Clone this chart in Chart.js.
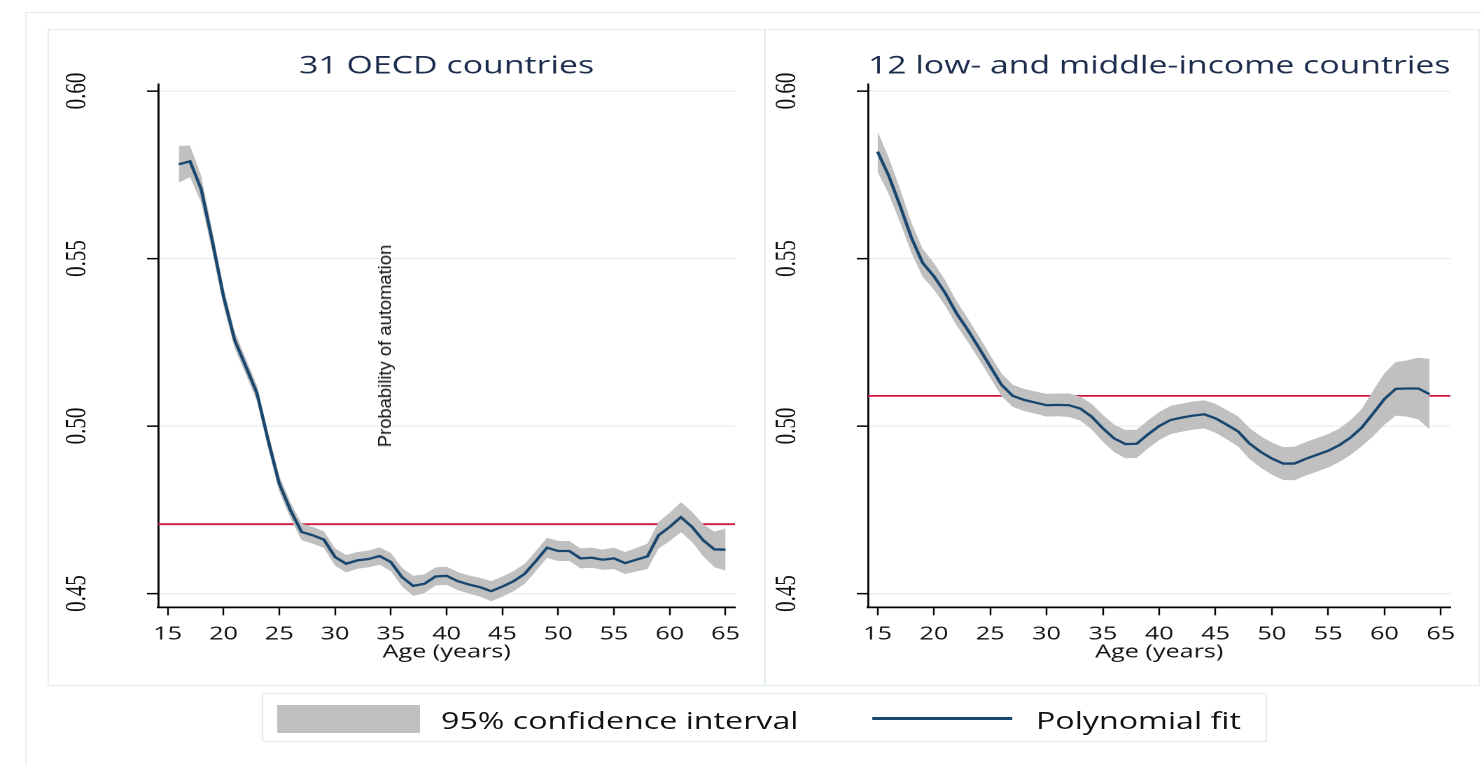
<!DOCTYPE html>
<html>
<head>
<meta charset="utf-8">
<script src="https://cdn.jsdelivr.net/npm/chart.js@4.4.1/dist/chart.umd.min.js"></script>
<style>
html, body { margin: 0; padding: 0; background: #fff; width: 1481px; height: 764px; overflow: hidden; }
/* the source picture is stretched sideways, so the layout is drawn narrow and scaled */
#page { position: absolute; left: 0; top: 0; width: 1058px; height: 764px; transform: scaleX(1.4); transform-origin: 0 0; }
.box { position: absolute; border: 1px solid #e3edf0; box-sizing: border-box; }
canvas { position: absolute; }
#legend span { position: absolute; font-family: "Open Sans", sans-serif; font-size: 23px; line-height: 23px; color: #111; white-space: nowrap; }
#ytitle { position: absolute; left: 385px; top: 346px; transform: translate(-50%, -50%) rotate(-90deg);
          font-family: "Liberation Sans", Arial, sans-serif; font-size: 18.4px; color: #111; white-space: nowrap; }
</style>
</head>
<body>
<div id="page">
  <div class="box" style="left:18px; top:12px; width:1060px; height:800px;"></div>
  <div class="box" style="left:34px; top:29px; width:513px; height:657px;"></div>
  <div class="box" style="left:546px; top:29px; width:511px; height:657px;"></div>
  <canvas id="chartOecd" width="512" height="656" style="left:34px; top:29px;"></canvas>
  <canvas id="chartLmic" width="510" height="656" style="left:546px; top:29px;"></canvas>
  <div id="legend" class="box" style="left:187px; top:693px; width:718px; height:49px;">
    <div style="position:absolute; left:10px; top:11px; width:102px; height:28px; background:#c0c0c0;"></div>
    <span style="left:127px; top:15px;">95% confidence interval</span>
    <div style="position:absolute; left:435px; top:23px; width:100px; height:3px; background:#1a476f;"></div>
    <span style="left:552px; top:15px;">Polynomial fit</span>
  </div>
</div>
<div id="ytitle">Probability of automation</div>

<script>
// Axes
var xTicks = [15, 20, 25, 30, 35, 40, 45, 50, 55, 60, 65];
var yTicks = [0.45, 0.50, 0.55, 0.60];
var xMin = 14.15, xMax = 65.85;
var yMin = 0.4459, yMax = 0.6020;

// 31 OECD countries
var oecdTitle = "31 OECD countries";
var oecdAges = [16, 17, 18, 19, 20, 21, 22, 23, 24, 25, 26, 27, 28, 29, 30, 31, 32, 33, 34, 35,
                36, 37, 38, 39, 40, 41, 42, 43, 44, 45, 46, 47, 48, 49, 50, 51, 52, 53, 54, 55,
                56, 57, 58, 59, 60, 61, 62, 63, 64, 65];
var oecdFit = [0.5781, 0.5790, 0.5707, 0.5552, 0.5387, 0.5257, 0.5178, 0.5098, 0.4958, 0.4828,
               0.4749, 0.4684, 0.4674, 0.4661, 0.4609, 0.4589, 0.4599, 0.4603, 0.4612, 0.4594,
               0.4549, 0.4523, 0.4529, 0.4551, 0.4553, 0.4537, 0.4527, 0.4519, 0.4507, 0.4521,
               0.4537, 0.4559, 0.4597, 0.4637, 0.4627, 0.4627, 0.4605, 0.4607, 0.4601, 0.4605,
               0.4591, 0.4601, 0.4611, 0.4674, 0.4699, 0.4728, 0.4699, 0.4659, 0.4632, 0.4631];
var oecdLow = [0.5726, 0.5743, 0.5667, 0.5520, 0.5359, 0.5232, 0.5154, 0.5074, 0.4934, 0.4804,
               0.4725, 0.4659, 0.4649, 0.4636, 0.4583, 0.4563, 0.4574, 0.4578, 0.4586, 0.4567,
               0.4521, 0.4493, 0.4501, 0.4524, 0.4526, 0.4510, 0.4500, 0.4491, 0.4477, 0.4491,
               0.4507, 0.4529, 0.4567, 0.4607, 0.4597, 0.4597, 0.4575, 0.4577, 0.4571, 0.4573,
               0.4558, 0.4566, 0.4573, 0.4634, 0.4657, 0.4683, 0.4654, 0.4611, 0.4579, 0.4568];
var oecdHigh = [0.5836, 0.5837, 0.5747, 0.5584, 0.5415, 0.5282, 0.5202, 0.5122, 0.4982, 0.4852,
                0.4773, 0.4709, 0.4699, 0.4686, 0.4635, 0.4615, 0.4624, 0.4628, 0.4638, 0.4621,
                0.4577, 0.4553, 0.4557, 0.4578, 0.4580, 0.4564, 0.4554, 0.4547, 0.4537, 0.4551,
                0.4567, 0.4589, 0.4627, 0.4667, 0.4657, 0.4657, 0.4635, 0.4637, 0.4631, 0.4637,
                0.4624, 0.4636, 0.4649, 0.4714, 0.4741, 0.4773, 0.4744, 0.4707, 0.4685, 0.4694];
var oecdMean = 0.4707;

// 12 low- and middle-income countries
var lmicTitle = "12 low- and middle-income countries";
var lmicAges = [15, 16, 17, 18, 19, 20, 21, 22, 23, 24, 25, 26, 27, 28, 29, 30, 31, 32, 33, 34,
                35, 36, 37, 38, 39, 40, 41, 42, 43, 44, 45, 46, 47, 48, 49, 50, 51, 52, 53, 54,
                55, 56, 57, 58, 59, 60, 61, 62, 63, 64];
var lmicFit = [0.5819, 0.5746, 0.5657, 0.5562, 0.5487, 0.5447, 0.5397, 0.5337, 0.5287, 0.5233,
               0.5178, 0.5123, 0.5090, 0.5078, 0.5070, 0.5062, 0.5063, 0.5062, 0.5052, 0.5028,
               0.4993, 0.4963, 0.4946, 0.4947, 0.4975, 0.5000, 0.5018, 0.5025, 0.5031, 0.5035,
               0.5023, 0.5004, 0.4984, 0.4948, 0.4923, 0.4903, 0.4888, 0.4888, 0.4902, 0.4914,
               0.4926, 0.4943, 0.4966, 0.4996, 0.5038, 0.5081, 0.5111, 0.5112, 0.5112, 0.5095];
var lmicLow = [0.5759, 0.5691, 0.5607, 0.5517, 0.5445, 0.5407, 0.5359, 0.5301, 0.5252, 0.5199,
               0.5144, 0.5089, 0.5057, 0.5045, 0.5037, 0.5028, 0.5029, 0.5027, 0.5016, 0.4990,
               0.4953, 0.4922, 0.4904, 0.4905, 0.4933, 0.4958, 0.4976, 0.4983, 0.4989, 0.4993,
               0.4980, 0.4960, 0.4939, 0.4902, 0.4876, 0.4855, 0.4839, 0.4838, 0.4852, 0.4864,
               0.4876, 0.4893, 0.4914, 0.4940, 0.4970, 0.5004, 0.5031, 0.5028, 0.5020, 0.4990];
var lmicHigh = [0.5879, 0.5801, 0.5707, 0.5607, 0.5529, 0.5487, 0.5435, 0.5373, 0.5322, 0.5267,
                0.5212, 0.5157, 0.5123, 0.5111, 0.5103, 0.5096, 0.5097, 0.5097, 0.5088, 0.5066,
                0.5033, 0.5004, 0.4988, 0.4989, 0.5017, 0.5042, 0.5060, 0.5067, 0.5073, 0.5077,
                0.5066, 0.5048, 0.5029, 0.4994, 0.4970, 0.4951, 0.4937, 0.4938, 0.4952, 0.4964,
                0.4976, 0.4993, 0.5018, 0.5052, 0.5106, 0.5158, 0.5191, 0.5196, 0.5204, 0.5200];
var lmicMean = 0.5090;

/**
 * Met les âges et les valeurs ensemble en points {x, y}
 */
function toPoints(ages, values){
    return ages.map(function(a, i){ return {x: a, y: values[i]}; });
}

/**
 * Construit un panneau
 * @param id l'id du canvas
 * @param title le titre du panneau
 * @param yWidth la largeur de l'axe y
 * @param padRight la marge à droite
 */
function buildPanel(id, title, ages, fit, low, high, mean, yWidth, padRight){
    let ctx = document.getElementById(id).getContext('2d');
    return new Chart(ctx, {
        type: 'line',
        data: {
            datasets: [{
                label: 'mean',
                data: [{x: xMin, y: mean}, {x: xMax, y: mean}],
                borderColor: '#d3163f',
                borderWidth: 1.8,
                pointRadius: 0,
                order: 3
            }, {
                label: 'low',
                data: toPoints(ages, low),
                borderWidth: 0,
                borderColor: 'rgba(0,0,0,0)',
                pointRadius: 0,
                order: 2
            }, {
                label: '95% confidence interval',
                data: toPoints(ages, high),
                borderWidth: 0,
                borderColor: 'rgba(0,0,0,0)',
                backgroundColor: '#c0c0c0',
                fill: '-1',
                pointRadius: 0,
                order: 1
            }, {
                label: 'Polynomial fit',
                data: toPoints(ages, fit),
                borderColor: '#1a476f',
                borderWidth: 2.3,
                pointRadius: 0,
                order: 0
            }]
        },
        options: {
            responsive: false,
            animation: false,
            devicePixelRatio: 2,
            layout: {padding: {top: 0, left: 0, right: padRight, bottom: 13.7}},
            plugins: {
                legend: {display: false},
                tooltip: {enabled: false},
                title: {
                    display: true,
                    text: title,
                    fullSize: false,
                    color: '#1c2c4c',
                    font: {family: 'Open Sans', size: 24.2, weight: 'normal', lineHeight: 1.2},
                    padding: {top: 23, bottom: 3.2}
                }
            },
            scales: {
                x: {
                    type: 'linear',
                    min: xMin,
                    max: xMax,
                    afterBuildTicks: function(s){ s.ticks = xTicks.map(function(v){ return {value: v}; }); },
                    grid: {drawOnChartArea: false, tickLength: 8, tickColor: '#000', tickWidth: 1.2},
                    border: {color: '#000', width: 1.7},
                    ticks: {color: '#111', padding: 10, maxRotation: 0, autoSkip: false,
                            font: {family: 'Open Sans', size: 18, lineHeight: 1}},
                    title: {display: true, text: 'Age (years)', color: '#111', padding: {top: -10, bottom: 10},
                            font: {family: 'Open Sans', size: 18, lineHeight: 1}}
                },
                y: {
                    type: 'linear',
                    min: yMin,
                    max: yMax,
                    afterBuildTicks: function(s){ s.ticks = yTicks.map(function(v){ return {value: v}; }); },
                    afterFit: function(s){ s.width = yWidth; },
                    grid: {color: '#e6edf1', lineWidth: 1.3, tickLength: 8, tickColor: '#000', tickWidth: 1.5},
                    border: {color: '#000', width: 1.4},
                    ticks: {color: '#111', padding: 31, minRotation: 90, maxRotation: 90, crossAlign: 'center',
                            font: {family: 'Liberation Sans Narrow', size: 21},
                            callback: function(v){ return Number(v).toFixed(2); }}
                }
            }
        }
    });
}

var charts = {};
charts.oecd = buildPanel('chartOecd', oecdTitle, oecdAges, oecdFit, oecdLow, oecdHigh, oecdMean, 79, 21);
charts.lmic = buildPanel('chartLmic', lmicTitle, lmicAges, lmicFit, lmicLow, lmicHigh, lmicMean, 74, 20);
</script>
</body>
</html>
